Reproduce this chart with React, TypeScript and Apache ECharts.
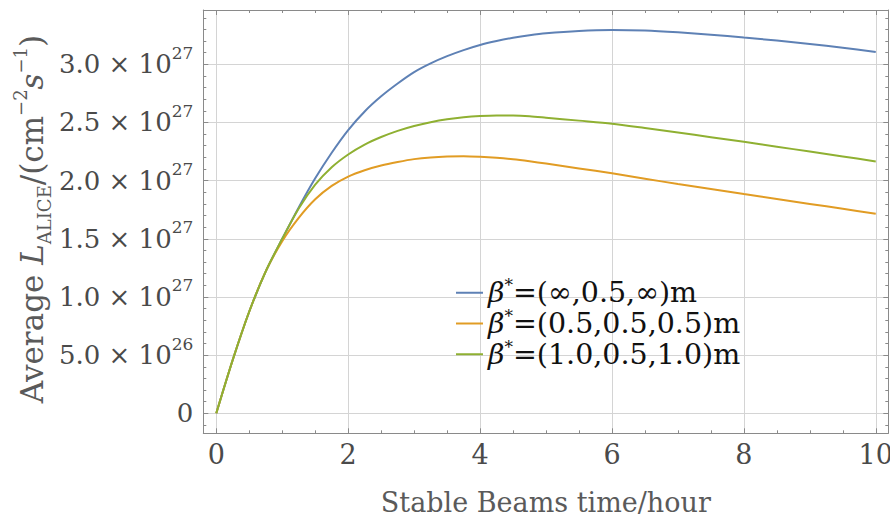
import React, { useEffect, useRef } from "react";
import * as echarts from "echarts";

// Stable Beams time (hours)
const hours = [
  0, 0.25, 0.5, 0.75, 1, 1.25, 1.5, 1.75, 2, 2.25, 2.5, 2.75, 3, 3.25, 3.5, 3.75, 4, 4.25, 4.5, 4.75, 5,
  5.5, 6, 6.5, 7, 7.5, 8, 8.5, 9, 9.5, 10,
];
// Average luminosity, in units of 1e27 cm^-2 s^-1
const lumiInf = [
  0, 0.46, 0.875, 1.22, 1.5, 1.77, 2.02, 2.24, 2.435, 2.595, 2.725, 2.835, 2.933, 3.008, 3.07, 3.122, 3.166, 3.2, 3.228, 3.25, 3.267,
  3.287, 3.295, 3.29, 3.275, 3.255, 3.23, 3.205, 3.175, 3.142, 3.106,
];
const lumi05 = [
  0, 0.46, 0.875, 1.22, 1.48, 1.68, 1.84, 1.955, 2.035, 2.09, 2.13, 2.16, 2.185, 2.2, 2.208, 2.21, 2.205, 2.196, 2.183, 2.166, 2.147,
  2.105, 2.063, 2.017, 1.971, 1.928, 1.885, 1.843, 1.8, 1.758, 1.716,
];
const lumi10 = [
  0, 0.46, 0.875, 1.22, 1.5, 1.76, 1.965, 2.115, 2.225, 2.31, 2.375, 2.428, 2.47, 2.502, 2.527, 2.545, 2.556, 2.561, 2.56, 2.553, 2.541,
  2.516, 2.49, 2.453, 2.414, 2.374, 2.334, 2.292, 2.25, 2.208, 2.165,
];

const seriesNames = ["β*=(∞,0.5,∞)m", "β*=(0.5,0.5,0.5)m", "β*=(1.0,0.5,1.0)m"];
const seriesColors = ["#5E81B5", "#E19C24", "#8FB032"];

// ticks
const xMajor = [0, 2, 4, 6, 8, 10];
const xMinor = [0.5, 1, 1.5, 2.5, 3, 3.5, 4.5, 5, 5.5, 6.5, 7, 7.5, 8.5, 9, 9.5];
const yMajor = [0, 0.5, 1, 1.5, 2, 2.5, 3];
const yMinor = [-0.1, 0.1, 0.2, 0.3, 0.4, 0.6, 0.7, 0.8, 0.9, 1.1, 1.2, 1.3, 1.4, 1.6, 1.7, 1.8, 1.9, 2.1, 2.2, 2.3, 2.4, 2.6, 2.7, 2.8, 2.9, 3.1, 3.2, 3.3, 3.4];
const yMantissa = ["0", "5.0", "1.0", "1.5", "2.0", "2.5", "3.0"];
const yExponent = ["", "26", "27", "27", "27", "27", "27"];

const xTitle = "Stable Beams time/hour";

const FONT = "'DejaVu Serif', serif";
const FRAME = "#8a8a8a";
const GRID = "#d4d4d4";
const LABEL = "#4a4a4a";
const TITLE = "#5a5a5a";

const X_MIN = -0.197;
const X_MAX = 10.19;
const Y_MIN = -0.172;
const Y_MAX = 3.467;

function tickAxis(position: string, min: number, max: number, values: number[], length: number, showLine: boolean) {
  return {
    type: "value",
    position,
    min,
    max,
    axisLine: { show: showLine, onZero: false, lineStyle: { color: FRAME, width: 1 } },
    axisTick: { show: true, inside: true, length, customValues: values, lineStyle: { color: FRAME, width: 1 } },
    axisLabel: { show: false },
    splitLine: { show: false },
  };
}

export default function App() {
  const ref = useRef<HTMLDivElement>(null);

  useEffect(() => {
    if (!ref.current) return;
    const chart = echarts.init(ref.current, undefined, { renderer: "svg" });
    const legendRich: any = {
      b: { fontFamily: FONT, fontStyle: "italic", fontSize: 28.5, color: "#111", lineHeight: 32.5 },
      s: { fontFamily: FONT, fontSize: 17, color: "#111", verticalAlign: "top", lineHeight: 18 },
      n: { fontFamily: FONT, fontSize: 28.5, color: "#111", lineHeight: 32.5 },
    };
    const option: any = {
      animation: false,
      backgroundColor: "#ffffff",
      grid: { left: 203.3, right: 1.7, top: 10, bottom: 87.7, outerBoundsMode: "none" },
      xAxis: [
        {
          type: "value",
          position: "bottom",
          min: X_MIN,
          max: X_MAX,
          splitNumber: 5,
          axisLine: { show: true, onZero: false, lineStyle: { color: FRAME, width: 1 } },
          axisTick: { show: true, inside: true, length: 5, customValues: xMajor, lineStyle: { color: FRAME } },
          axisLabel: {
            customValues: xMajor,
            margin: 8,
            fontFamily: FONT,
            fontSize: 27,
            color: LABEL,
            formatter: (v: number) => String(v),
          },
          splitLine: { show: true, lineStyle: { color: GRID, width: 1 } },
          name: xTitle,
          nameLocation: "middle",
          nameGap: 56,
          nameTextStyle: { fontFamily: FONT, fontSize: 27, color: TITLE },
        },
        tickAxis("bottom", X_MIN, X_MAX, xMinor, 3, false),
        tickAxis("top", X_MIN, X_MAX, xMajor, 5, true),
        tickAxis("top", X_MIN, X_MAX, xMinor, 3, false),
      ],
      yAxis: [
        {
          type: "value",
          position: "left",
          min: Y_MIN,
          max: Y_MAX,
          splitNumber: 7,
          axisLine: { show: true, onZero: false, lineStyle: { color: FRAME, width: 1 } },
          axisTick: { show: true, inside: true, length: 5, customValues: yMajor, lineStyle: { color: FRAME } },
          axisLabel: {
            customValues: yMajor,
            margin: 10,
            formatter: (v: number) => {
              let idx = 0;
              let best = Infinity;
              yMajor.forEach((t, i) => {
                if (Math.abs(t - v) < best) {
                  best = Math.abs(t - v);
                  idx = i;
                }
              });
              if (!yExponent[idx]) return `{m|${yMantissa[idx]}}`;
              return `{m|${yMantissa[idx]} × 10}{p|${yExponent[idx]}}`;
            },
            rich: {
              m: { fontFamily: FONT, fontSize: 26, color: LABEL, lineHeight: 40 },
              p: { fontFamily: FONT, fontSize: 17, color: LABEL, verticalAlign: "top", lineHeight: 18 },
            },
          },
          splitLine: { show: true, lineStyle: { color: GRID, width: 1 } },
        },
        tickAxis("left", Y_MIN, Y_MAX, yMinor, 3, false),
        tickAxis("right", Y_MIN, Y_MAX, yMajor, 5, true),
        tickAxis("right", Y_MIN, Y_MAX, yMinor, 3, false),
      ],
      legend: {
        show: true,
        orient: "vertical",
        left: 456,
        top: 276.5,
        padding: 0,
        itemGap: 0,
        itemWidth: 27,
        itemHeight: 2,
        icon: "rect",
        selectedMode: false,
        data: seriesNames,
        formatter: (name: string) => {
          const rest = name.replace("β*", "");
          return `{b|β}{s|*}{n|${rest}}`;
        },
        textStyle: { fontFamily: FONT, fontSize: 28.5, color: "#111", rich: legendRich },
      },
      graphic: [
        {
          type: "text",
          x: 32,
          y: 219,
          rotation: Math.PI / 2,
          silent: true,
          style: {
            text: "{n|Average }{i|L}{sub|ALICE}{n|/(cm}{sup|−2}{i|s}{sup|−1}{n|)}",
            align: "center",
            verticalAlign: "middle",
            fill: TITLE,
            fontFamily: FONT,
            fontSize: 31,
            rich: {
              n: { fontFamily: FONT, fontSize: 31, fill: TITLE, lineHeight: 42 },
              i: { fontFamily: FONT, fontSize: 31, fontStyle: "italic", fill: TITLE, lineHeight: 42 },
              sub: { fontFamily: FONT, fontSize: 18, fill: TITLE, verticalAlign: "bottom", lineHeight: 19 },
              sup: { fontFamily: FONT, fontSize: 18, fill: TITLE, verticalAlign: "top", lineHeight: 19 },
            },
          },
        },
      ],
      series: [lumiInf, lumi05, lumi10].map((vals, k) => ({
        type: "line",
        name: seriesNames[k],
        xAxisIndex: 0,
        yAxisIndex: 0,
        data: hours.map((h, i) => [h, vals[i]]),
        smooth: 0.3,
        symbol: "none",
        showSymbol: false,
        lineStyle: { color: seriesColors[k], width: 2 },
        itemStyle: { color: seriesColors[k] },
        z: 3 + k,
      })),
    };
    chart.setOption(option);
    return () => chart.dispose();
  }, []);

  return (
    <div
      ref={ref}
      style={{ position: "fixed", left: 0, top: 0, width: 890, height: 521, background: "#fff" }}
    />
  );
}
